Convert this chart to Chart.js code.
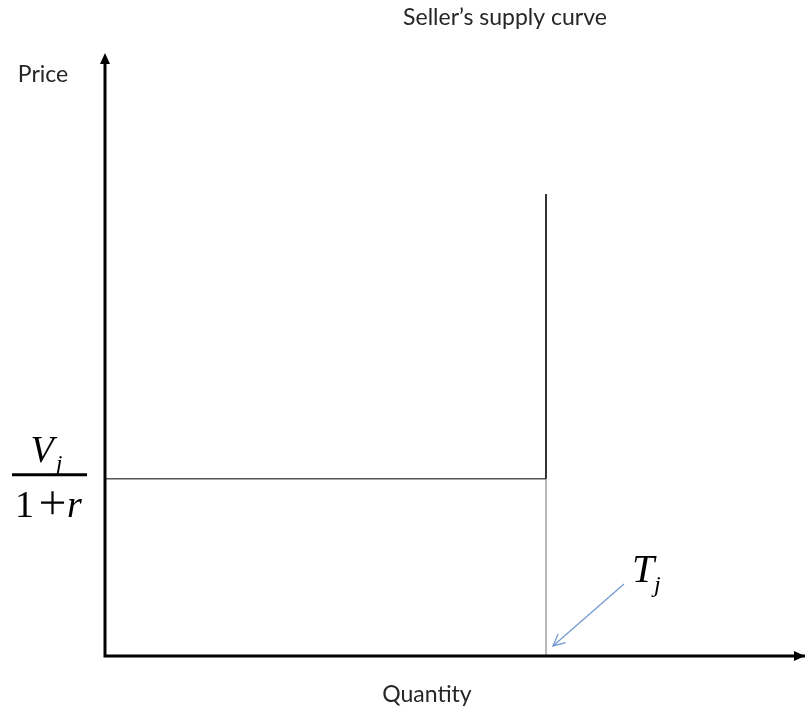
<!DOCTYPE html>
<html>
<head>
<meta charset="utf-8">
<script src="https://cdn.jsdelivr.net/npm/chart.js@4"></script>
<style>
  body { margin: 0; background: #fff; }
  #wrap { width: 805px; height: 712px; }
</style>
</head>
<body>
<div id="wrap"><canvas id="supplyChart" width="805" height="712"></canvas></div>
<script>
// supply curve: flat at the discounted value up to capacity T_j, then vertical
const capacity = 63;
const price = 29.4;
const curveTop = 76.6;
const supplyX = [0, capacity, capacity];
const supplyY = [price, price, curveTop];
const dropX = [capacity, capacity];
const dropY = [0, price];

const titleText = 'Seller\u2019s supply curve';
const xLabel = 'Quantity';
const yLabel = 'Price';

const serif = '"Liberation Serif", "DejaVu Serif", serif';
const sans = 'Lato, "Open Sans", sans-serif';

const decorations = {
  id: 'decorations',
  afterDraw(chart) {
    const ctx = chart.ctx;
    const a = chart.chartArea;
    const xs = chart.scales.x, ys = chart.scales.y;
    ctx.save();

    // axes with arrow heads
    ctx.strokeStyle = '#000';
    ctx.fillStyle = '#000';
    ctx.lineWidth = 3;
    ctx.beginPath();
    ctx.moveTo(a.left, a.bottom + 1.5);
    ctx.lineTo(a.left, a.top + 8);
    ctx.moveTo(a.left - 1.5, a.bottom);
    ctx.lineTo(a.right, a.bottom);
    ctx.stroke();
    ctx.beginPath();
    ctx.moveTo(a.left, a.top);
    ctx.lineTo(a.left - 5, a.top + 11);
    ctx.lineTo(a.left + 5, a.top + 11);
    ctx.closePath();
    ctx.fill();
    ctx.beginPath();
    ctx.moveTo(a.right, a.bottom);
    ctx.lineTo(a.right - 11, a.bottom - 5);
    ctx.lineTo(a.right - 11, a.bottom + 5);
    ctx.closePath();
    ctx.fill();

    // texts
    ctx.font = '23px ' + sans;
    ctx.textAlign = 'center';
    ctx.textBaseline = 'middle';
    ctx.fillStyle = '#262626';
    ctx.fillText(titleText, 505, 18);
    ctx.fillText(yLabel, 43, 75);
    ctx.fillText(xLabel, (a.left + a.right) / 2 - 28, a.bottom + 39);

    // V_j / (1+r) at the price level
    const py = ys.getPixelForValue(price);
    const cx = 50;
    ctx.fillStyle = '#000';
    ctx.textBaseline = 'alphabetic';
    ctx.font = 'italic 38px ' + serif;
    ctx.fillText('V', cx - 8, py - 17);
    ctx.font = 'italic 24px ' + serif;
    ctx.fillText('j', cx + 9, py - 8);
    ctx.lineWidth = 3;
    ctx.beginPath();
    ctx.moveTo(cx - 38, py - 4);
    ctx.lineTo(cx + 37, py - 4);
    ctx.stroke();
    ctx.font = '38px ' + serif;
    ctx.textAlign = 'left';
    ctx.fillText('1', cx - 35, py + 38);
    // plus sign
    ctx.lineWidth = 2.2;
    ctx.beginPath();
    ctx.moveTo(cx - 9, py + 24);
    ctx.lineTo(cx + 14, py + 24);
    ctx.moveTo(cx + 2.5, py + 12.5);
    ctx.lineTo(cx + 2.5, py + 35.5);
    ctx.stroke();
    ctx.font = 'italic 38px ' + serif;
    ctx.fillText('r', cx + 17, py + 38);

    // T_j label with arrow pointing at the capacity on the quantity axis
    const tx = xs.getPixelForValue(capacity) + 7;
    const ty = ys.getPixelForValue(0) - 10;
    const sx = tx + 71, sy = ty - 62;
    ctx.strokeStyle = '#729bd0';
    ctx.lineWidth = 1.3;
    ctx.beginPath();
    ctx.moveTo(sx, sy);
    ctx.lineTo(tx, ty);
    ctx.stroke();
    const ang = Math.atan2(sy - ty, sx - tx);
    ctx.beginPath();
    ctx.moveTo(tx + 13 * Math.cos(ang + 0.45), ty + 13 * Math.sin(ang + 0.45));
    ctx.lineTo(tx, ty);
    ctx.lineTo(tx + 13 * Math.cos(ang - 0.45), ty + 13 * Math.sin(ang - 0.45));
    ctx.stroke();
    ctx.fillStyle = '#000';
    ctx.font = 'italic 40px ' + serif;
    ctx.fillText('T', sx + 8, sy - 2);
    ctx.font = 'italic 24px ' + serif;
    ctx.fillText('j', sx + 30, sy + 8);
    ctx.restore();
  }
};

new Chart(document.getElementById('supplyChart'), {
  type: 'scatter',
  data: {
    datasets: [
      {
        data: supplyX.map((x, i) => ({ x: x, y: supplyY[i] })),
        showLine: true,
        pointRadius: 0,
        borderWidth: 1.6,
        borderColor: '#000',
        segment: { borderColor: c => c.p0DataIndex === 0 ? '#555' : '#000' }
      },
      {
        data: dropX.map((x, i) => ({ x: x, y: dropY[i] })),
        showLine: true,
        pointRadius: 0,
        borderWidth: 1,
        borderColor: '#777'
      }
    ]
  },
  options: {
    responsive: false,
    animation: false,
    layout: { padding: { left: 105, right: 0, top: 53, bottom: 56 } },
    plugins: { legend: { display: false }, tooltip: { enabled: false } },
    scales: {
      x: { display: false, type: 'linear', min: 0, max: 100 },
      y: { display: false, type: 'linear', min: 0, max: 100 }
    }
  },
  plugins: [decorations]
});
</script>
</body>
</html>
